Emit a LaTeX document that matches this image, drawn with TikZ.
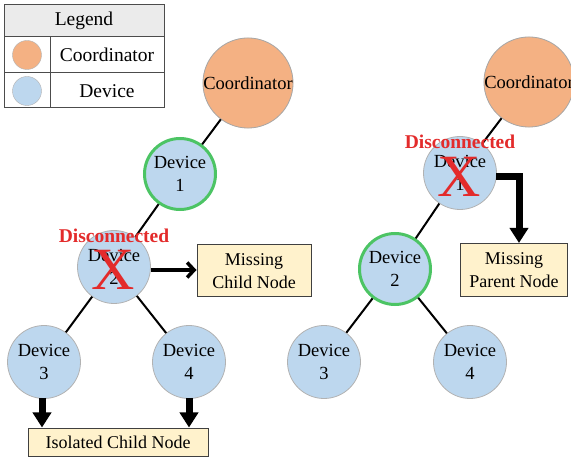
\documentclass[tikz,border=0pt]{standalone}
\usepackage{fontspec}
\setmainfont{Liberation Serif}
\usetikzlibrary{arrows.meta}
\definecolor{coordfill}{HTML}{F4B183}
\definecolor{devfill}{HTML}{BDD7EE}
\definecolor{greenring}{HTML}{4CC464}
\definecolor{boxfill}{HTML}{FFF2CC}
\definecolor{xred}{HTML}{E32B2B}
\definecolor{headgray}{HTML}{EBEBEB}
\tikzset{
  coordnode/.style={circle, fill=coordfill, draw=gray!70, line width=0.8pt, minimum size=73pt, inner sep=0pt, font=\fontsize{18.5}{22}\selectfont},
  devnode/.style={circle, fill=devfill, draw=gray!60, line width=0.8pt, minimum size=73pt, inner sep=0pt, align=center, font=\fontsize{18.5}{23}\selectfont},
  greendev/.style={devnode, draw=greenring, line width=3pt, minimum size=71pt},
  msgbox/.style={draw=black!75, fill=boxfill, line width=1pt, align=center, inner sep=0pt, font=\fontsize{18}{23}\selectfont},
  link/.style={line width=2pt},
  discolab/.style={text=xred, font=\fontsize{19.5}{22}\selectfont\bfseries},
  xmark/.style={text=xred, font=\fontsize{60}{60}\selectfont, inner sep=0pt},
  fatarrow/.style={line width=7pt, -{Triangle[length=15pt,width=18pt]}},
  thinarrow/.style={line width=3.5pt, -{Straight Barb[length=7pt,width=15pt]}},
  legtext/.style={font=\fontsize{19.5}{22}\selectfont}
}
\begin{document}
\begin{tikzpicture}[x=1pt,y=-1pt]
\useasboundingbox (0,0) rectangle (571,457);
% legend
\fill[headgray] (4,5) rectangle (164,37);
\draw[black!70, line width=1pt] (4,5) rectangle (164,108);
\draw[black!70, line width=1pt] (4,37) -- (164,37) (4,73) -- (164,73) (50,37) -- (50,108);
\node[legtext] (lg) at (84,21) {Legend};
\node[circle, fill=coordfill, draw=gray!60, minimum size=29pt, inner sep=0pt] (lc) at (27,55) {};
\node[circle, fill=devfill, draw=gray!60, minimum size=29pt, inner sep=0pt] (ld) at (27,91) {};
\node[legtext] (lct) at (107,55) {Coordinator};
\node[legtext] (ldt) at (107,91) {Device};

% left tree
\node[coordnode] (lco) at (248,83) {Coordinator};
\node[greendev] (l1) at (180,174) {Device\\1};
\node[devnode] (l2) at (114,267) {Device\\2};
\node[devnode] (l3) at (44,362) {Device\\3};
\node[devnode] (l4) at (189,362) {Device\\4};
\begin{scope}[on background layer/.try]
\end{scope}
\draw[link] (lco) -- (l1);
\draw[link] (l1) -- (l2);
\draw[link] (l2) -- (l3);
\draw[link] (l2) -- (l4);
\node[discolab] (ldis) at (114,236) {Disconnected};
\node[xmark] (lx) at (113,270) {X};
\node[msgbox, minimum width=114pt, minimum height=52pt] (mc) at (254,271) {Missing\\Child Node};
\draw[thinarrow] (l2.east |- 0,270) -- (mc.west |- 0,270);
\node[msgbox, minimum width=180pt, minimum height=28pt] (iso) at (118,442) {Isolated Child Node};
\draw[fatarrow] (42,398) -- (iso.north -| 42,0);
\draw[fatarrow] (189,398) -- (iso.north -| 189,0);

% right tree
\node[coordnode] (rco) at (529,82) {Coordinator};
\node[devnode] (r1) at (460,173) {Device\\1};
\node[greendev] (r2) at (395,269) {Device\\2};
\node[devnode] (r3) at (324,362) {Device\\3};
\node[devnode] (r4) at (470,362) {Device\\4};
\draw[link] (rco) -- (r1);
\draw[link] (r1) -- (r2);
\draw[link] (r2) -- (r3);
\draw[link] (r2) -- (r4);
\node[discolab] (rdis) at (460,142) {Disconnected};
\node[xmark] (rx) at (459,177) {X};
\node[msgbox, minimum width=107pt, minimum height=53pt] (mp) at (514,270) {Missing\\Parent Node};
\coordinate (rbend) at (519,177);
\draw[fatarrow] (496,177) -- (rbend) -- (mp.north -| rbend);
\end{tikzpicture}
\end{document}
